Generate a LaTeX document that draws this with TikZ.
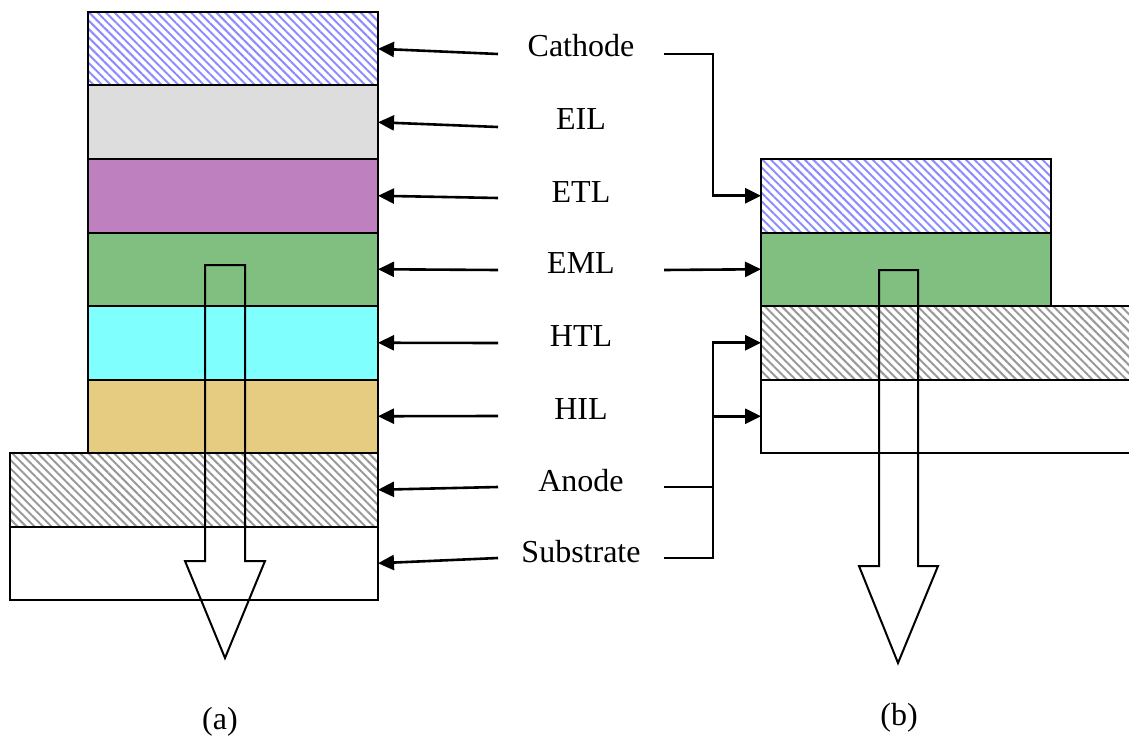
\documentclass[tikz,border=0pt]{standalone}
\usepackage{fontspec}
\setmainfont{Liberation Serif}
\usetikzlibrary{arrows.meta,patterns.meta}

\definecolor{eilgray}{HTML}{DDDDDD}
\definecolor{etlpurple}{HTML}{BF80BF}
\definecolor{emlgreen}{HTML}{80BF80}
\definecolor{htlcyan}{HTML}{80FFFF}
\definecolor{hiltan}{HTML}{E6CC80}
\definecolor{hatchblue}{HTML}{8C8CFF}

\tikzset{
  film/.style={draw, line width=1pt, inner sep=0pt, outer sep=0pt, anchor=north west, minimum height=36.75pt},
  narrow/.style={minimum width=145pt},
  broad/.style={minimum width=184pt},
  bluehatch/.style={pattern={Lines[angle=-45,distance=3pt,line width=1pt]}, pattern color=hatchblue},
  grayhatch/.style={pattern={Lines[angle=-45,distance=3pt,line width=1pt]}, pattern color=black!40},
  lab/.style={font=\fontsize{16}{19}\selectfont, anchor=base, inner sep=0pt},
  conn/.style={line width=1.3pt, -{Triangle[length=8pt,width=7.5pt]}},
  link/.style={line width=1.3pt},
  beam/.style={line width=1pt}
}

\begin{document}
\begin{tikzpicture}[x=0.5pt,y=-0.5pt]
  \useasboundingbox (0,0) rectangle (1129,738);

  \node[film,narrow,bluehatch] (cathA) at (88,12) {};
  \node[film,narrow,fill=eilgray] (eilA) at (88,85.5) {};
  \node[film,narrow,fill=etlpurple] (etlA) at (88,159) {};
  \node[film,narrow,fill=emlgreen] (emlA) at (88,232.5) {};
  \node[film,narrow,fill=htlcyan] (htlA) at (88,306) {};
  \node[film,narrow,fill=hiltan] (hilA) at (88,379.5) {};
  \node[film,broad,grayhatch] (anodeA) at (10,453) {};
  \node[film,broad] (subA) at (10,526.5) {};

  \node[film,narrow,bluehatch] (cathB) at (761,159) {};
  \node[film,narrow,fill=emlgreen] (emlB) at (761,232.5) {};
  \node[film,minimum width=186pt,grayhatch] (anodeB) at (761,306) {};
  \node[film,minimum width=186pt] (subB) at (761,379.5) {};

  \draw[beam] (205,265) -- (245,265) -- (245,561) -- (265,561) -- (225,658)
    -- (185,561) -- (205,561) -- cycle;
  \draw[beam] (879,270) -- (918,270) -- (918,566) -- (938,566) -- (898,663)
    -- (859,566) -- (879,566) -- cycle;

  \node[lab] (cathL) at (581,57) {Cathode};
  \node[lab] (eilL) at (581,130) {EIL};
  \node[lab] (etlL) at (581,202) {ETL};
  \node[lab] (emlL) at (581,273) {EML};
  \node[lab] (htlL) at (581,346) {HTL};
  \node[lab] (hilL) at (581,419) {HIL};
  \node[lab] (anodeL) at (581,491) {Anode};
  \node[lab] (subL) at (581,562) {Substrate};

  \node[lab] (capA) at (220,729) {(a)};
  \node[lab] (capB) at (899,725) {(b)};

  \coordinate (cathS) at (498,54);
  \coordinate (eilS) at (498,127);
  \coordinate (etlS) at (498,198);
  \coordinate (emlS) at (498,270);
  \coordinate (htlS) at (498,343);
  \coordinate (hilS) at (498,416);
  \coordinate (anodeS) at (498,487);
  \coordinate (subS) at (498,558);

  \draw[conn] (cathS) -- (cathA.east);
  \draw[conn] (eilS) -- (eilA.east);
  \draw[conn] (etlS) -- (etlA.east);
  \draw[conn] (emlS) -- (emlA.east);
  \draw[conn] (htlS) -- (htlA.east);
  \draw[conn] (hilS) -- (hilA.east);
  \draw[conn] (anodeS) -- (anodeA.east);
  \draw[conn] (subS) -- (subA.east);

  \coordinate (cathR) at (664,54);
  \coordinate (emlR) at (664,270);
  \coordinate (anodeR) at (664,487);
  \coordinate (subR) at (664,558);
  \coordinate (jx) at (713,0);

  \begin{scope}[line join=miter]
    \draw[conn] (cathR) -| (cathB.west -| jx) -- (cathB.west);
    \draw[conn] (emlR) -- (emlB.west);
    \draw[conn] (anodeR) -| (anodeB.west -| jx) -- (anodeB.west);
    \draw[link] (subR) -| (subB.west -| jx);
    \draw[conn] (subB.west -| jx) -- (subB.west);
  \end{scope}
\end{tikzpicture}
\end{document}
